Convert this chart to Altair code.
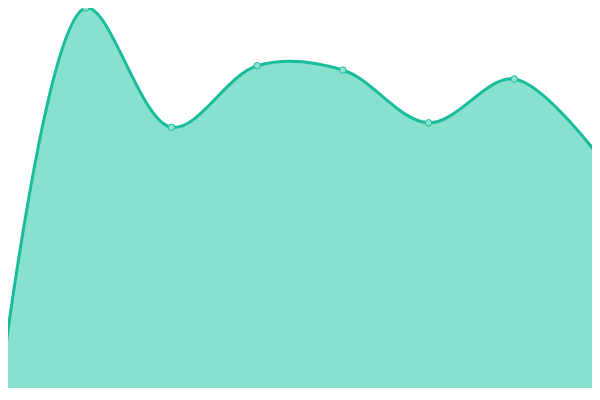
import altair as alt
import pandas as pd

idx = [0, 1, 2, 3, 4, 5, 6, 7]
values = [4.5, 392, 271.5, 333.7, 329.3, 276, 320.3, 240.5]

df = pd.DataFrame({"i": idx, "v": values})

x = alt.X("i:Q", axis=None, scale=alt.Scale(domain=[0.0933, 6.9067], nice=False, zero=False))
y = alt.Y("v:Q", axis=None, scale=alt.Scale(domain=[8, 392], nice=False, zero=False))

base = alt.Chart(df).encode(x=x, y=y)

area = base.mark_area(interpolate="catmull-rom", color="#88e0cf", clip=False)
line = base.mark_line(interpolate="catmull-rom", color="#1abc9c", strokeWidth=3, clip=False)
pts = base.mark_point(filled=True, fill="#8fe3d2", stroke="#1abc9c", strokeWidth=1,
                      size=42, opacity=1, clip=False)

chart = alt.layer(area, line, pts).properties(
    width=584, height=380,
    autosize=alt.AutoSizeParams(type="none"),
    padding=0,
    background="white",
).configure_view(stroke=None)

chart.save("out.html", embed_options={"renderer": "svg", "actions": False})
